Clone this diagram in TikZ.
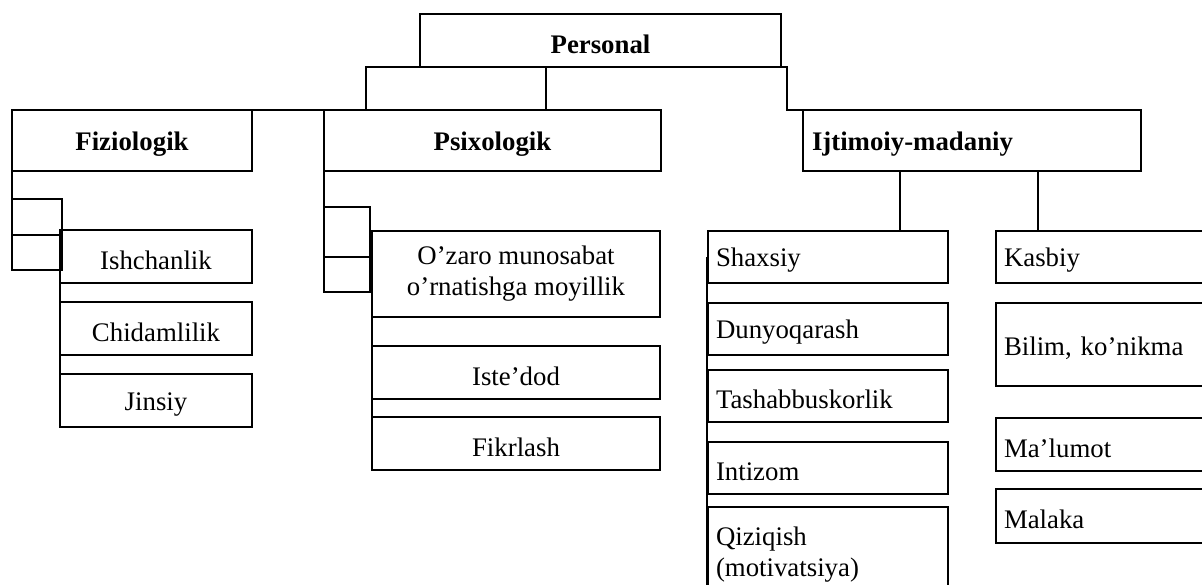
\documentclass[tikz,border=0pt]{standalone}
\usepackage{fontspec}
\setmainfont{Liberation Serif}
\usetikzlibrary{calc}
\begin{document}
\begin{tikzpicture}[x=0.5pt,y=-0.5pt,
  box/.style={draw, line width=0.6pt, rectangle, inner ysep=0pt, inner xsep=4pt,
              outer sep=0pt, anchor=north west,
              font=\fontsize{13.4}{15.5}\selectfont, align=center,
              execute at begin node={\rule{0pt}{12.8pt}}},
  lbox/.style={box, align=left},
  link/.style={line width=0.6pt},
  stub/.style={line width=1.1pt}]
\useasboundingbox (0,0) rectangle (1202,584);
\clip (0,0) rectangle (1202,584);

% top level
\node[box, minimum width=180.5pt, minimum height=26.5pt] (pers) at (420,14) {\textbf{Personal}};

% second level
\node[box, minimum width=120pt, minimum height=30.5pt] (fiz) at (12,110) {\textbf{Fiziologik}};
\node[box, minimum width=168.5pt, minimum height=30.5pt] (psi) at (324,110) {\textbf{Psixologik}};
\node[lbox, text width=160pt, inner xsep=4.5pt, minimum height=30.5pt] (ijt) at (803,110) {\textbf{Ijtimoiy-madaniy}};

% Fiziologik branch
\node[box, minimum width=96pt, minimum height=26.5pt] (ish) at (60,230) {Ishchanlik};
\node[box, minimum width=96pt, minimum height=26.5pt] (chi) at (60,302) {Chidamlilik};
\node[box, minimum width=96pt, minimum height=26.5pt] (jin) at (60,374) {Jinsiy};

% Psixologik branch
\node[box, minimum width=144pt, minimum height=43pt] (oza) at (372,231) {O’zaro munosabat\\o’rnatishga moyillik};
\node[box, minimum width=144pt, minimum height=26.5pt] (ist) at (372,346) {Iste’dod};
\node[box, minimum width=144pt, minimum height=26.5pt] (fik) at (372,417) {Fikrlash};

% Ijtimoiy-madaniy branch, personal column
\node[lbox, text width=112pt, minimum height=26pt] (sha) at (708,231) {Shaxsiy};
\node[lbox, text width=112pt, minimum height=26pt] (dun) at (708,303) {Dunyoqarash};
\node[lbox, text width=112pt, minimum height=26pt] (tas) at (708,370) {Tashabbuskorlik};
\node[lbox, text width=112pt, minimum height=26pt] (int) at (708,442) {Intizom};
\node[lbox, text width=112pt, minimum height=44pt] (qiz) at (708,507) {Qiziqish\\(motivatsiya)};

% Ijtimoiy-madaniy branch, professional column
\node[lbox, text width=100pt, minimum height=26pt] (kas) at (996,231) {Kasbiy};
\node[lbox, text width=100pt, minimum height=41.5pt] (bil) at (996,303) {Bilim, ko’nikma};
\node[lbox, text width=100pt, minimum height=26.5pt] (mal) at (996,418) {Ma’lumot};
\node[lbox, text width=100pt, minimum height=27pt] (mlk) at (996,489) {Malaka};

% connectors from Personal
\coordinate (pa) at (366,67);
\coordinate (pb) at (546,67);
\coordinate (pc) at (787,67);
\draw[link] (pers.south) -- (pa) -- (pa |- fiz.north) -- (fiz.north);
\draw[link] (pers.south) -- (pb) -- (pb |- psi.north) -- (psi.north);
\draw[link] (pers.south) -- (pc) -- (pc |- ijt.north) -- (ijt.north);

% connectors below Ijtimoiy-madaniy
\coordinate (ia) at (900,171);
\coordinate (ib) at (1038,171);
\draw[link] (ia) -- (ia |- sha.north) -- (sha.north);
\draw[link] (ib) -- (ib |- kas.north) -- (kas.north);
\draw[link] ($(sha.west)+(-1,0)$) -- ($(qiz.south west)+(-1,0)$);

% Fiziologik side brackets
\draw[stub] (fiz.west) -- (fiz.south west);
\draw[link] (fiz.south west) -- ++(0,99) -- ++(50,0) -- ++(0,-71) -- ++(-50,0);
\draw[link] ($(fiz.south west)+(0,64)$) -- ++(50,0);
\draw[stub] (ish.north west) -- ($(jin.north west)+(0,26)$);

% Psixologik side brackets
\draw[stub] (psi.west) -- (psi.south west);
\draw[link] (psi.south west) -- ++(0,121) -- ++(46,0) -- ++(0,-85) -- ++(-46,0);
\draw[link] ($(psi.south west)+(0,86)$) -- ++(46,0);
\draw[stub] (oza.north west) -- ($(fik.north west)+(0,26)$);
\end{tikzpicture}
\end{document}
